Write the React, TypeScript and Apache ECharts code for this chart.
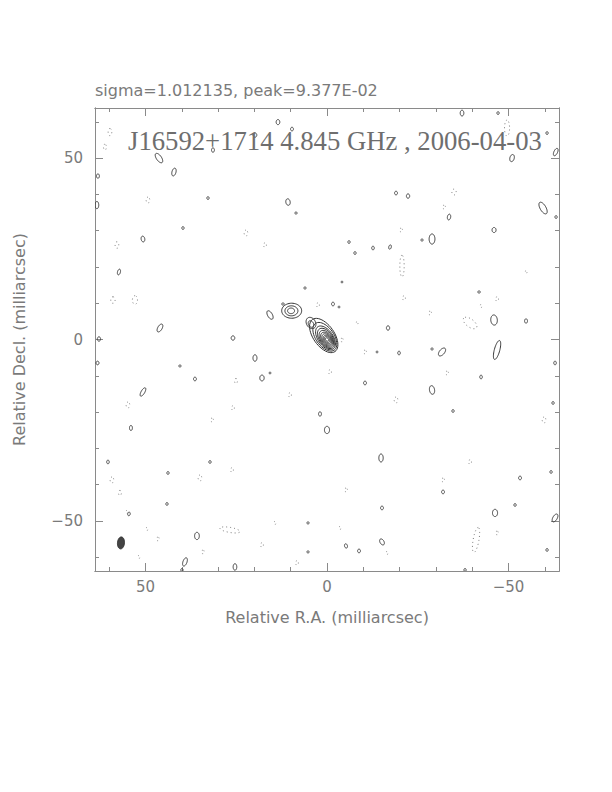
import React, { useEffect, useRef } from "react";
import * as echarts from "echarts";

// Axis ranges (milliarcsec)
const RA_MIN = -63.9;
const RA_MAX = 63.9;
const DEC_MIN = -63.8;
const DEC_MAX = 63.8;
const majorTicks = [-50, 0, 50];
const minorTicks = [-60, -40, -30, -20, -10, 10, 20, 30, 40, 60];

const statsTitle = "sigma=1.012135, peak=9.377E-02";
const sourceTitle = "J16592+1714 4.845 GHz , 2006-04-03";
const xName = "Relative R.A. (milliarcsec)";
const yName = "Relative Decl. (milliarcsec)";

// Contour islands: [RA, Dec, semi-major, semi-minor, position angle (deg E of N)]
const coreContours = [
  [0.9, 1.1, 5.4, 2.9, 35],
  [0.6, 0.75, 4.5, 2.5, 35],
  [0.41, 0.45, 3.72, 2.09, 35],
  [0.28, 0.3, 3.17, 1.82, 35],
  [0.19, 0.17, 2.64, 1.57, 35],
  [0.11, 0.09, 2.15, 1.35, 35],
  [0.06, 0.03, 1.71, 1.13, 35],
  [0.0, 0.0, 1.27, 0.91, 35],
  [0.0, 0.0, 0.88, 0.66, 35],
  [0.0, 0.0, 0.5, 0.39, 35],
  [4.41, 4.55, 1.65, 1.24, 30],
  [4.41, 4.27, 0.96, 0.69, 30],
];

const secondaryContours = [
  [9.73, 7.93, 2.75, 2.07, 90],
  [9.8, 7.9, 1.79, 1.38, 90],
  [9.9, 7.9, 0.96, 0.77, 90],
  [15.7, 6.75, 1.3, 0.65, 30],
  [12.12, 9.78, 0.35, 0.3, 0],
];

const positiveNoise = [
  [13.5, 59.92, 0.7, 0.5, 0],
  [-37.19, 62.4, 0.8, 0.5, 0],
  [-47.11, 62.4, 0.4, 0.3, 0],
  [-60.61, 56.89, 0.4, 0.3, 0],
  [-63.0, 51.66, 1.1, 0.5, -25],
  [-50.97, 50.0, 1.0, 0.6, -15],
  [46.28, 50.0, 1.5, 0.7, 35],
  [31.41, 52.21, 0.6, 0.4, 0],
  [19.84, 56.34, 0.6, 0.5, 0],
  [9.64, 57.99, 0.5, 0.4, 0],
  [63.09, 45.04, 0.6, 0.4, 0],
  [63.37, 37.05, 1.0, 0.5, 0],
  [42.15, 46.15, 1.1, 0.55, -15],
  [32.78, 38.98, 0.4, 0.3, 0],
  [50.69, 27.69, 0.8, 0.5, 10],
  [57.3, 18.6, 0.8, 0.4, -15],
  [39.67, 30.72, 0.4, 0.3, 0],
  [10.74, 37.88, 0.9, 0.6, 10],
  [8.54, 34.85, 0.3, 0.3, 0],
  [-19.01, 40.36, 0.5, 0.4, 0],
  [-22.32, 39.53, 0.6, 0.45, 0],
  [-59.51, 36.23, 1.8, 0.8, 30],
  [-63.09, 33.75, 0.4, 0.3, 0],
  [-33.61, 33.75, 0.8, 0.45, -10],
  [-28.93, 27.69, 1.4, 0.8, 0],
  [-26.17, 27.41, 0.3, 0.3, 0],
  [-46.01, 30.17, 0.7, 0.55, 0],
  [-17.36, 25.48, 0.6, 0.35, -15],
  [-6.06, 26.86, 0.4, 0.3, 0],
  [-7.71, 23.83, 0.4, 0.3, 0],
  [-12.67, 25.21, 0.5, 0.35, 0],
  [-41.88, 13.09, 0.35, 0.3, 0],
  [-46.01, 5.37, 1.4, 0.9, 5],
  [-54.82, 5.1, 0.6, 0.4, 0],
  [-16.81, 3.17, 0.6, 0.45, 0],
  [-19.84, -3.72, 0.5, 0.35, 0],
  [-28.93, -2.62, 0.3, 0.3, 0],
  [-31.68, -3.44, 1.3, 0.7, -40],
  [-46.84, -2.89, 2.7, 0.75, -15],
  [-62.81, -6.47, 0.5, 0.35, 0],
  [-42.43, -10.33, 0.5, 0.35, 0],
  [46.01, 3.17, 1.2, 0.6, -30],
  [25.9, 0.41, 0.6, 0.5, 0],
  [62.81, 0.14, 0.6, 0.45, 0],
  [63.2, -6.47, 0.5, 0.4, 0],
  [50.69, -14.46, 1.3, 0.5, -30],
  [54.0, -24.38, 0.7, 0.4, 0],
  [36.37, -10.88, 0.5, 0.4, 0],
  [19.84, -5.1, 0.9, 0.55, 0],
  [17.91, -10.61, 0.8, 0.6, 0],
  [15.7, -9.23, 0.25, 0.25, 0],
  [6.06, 14.19, 0.3, 0.3, 0],
  [-4.13, 15.84, 0.3, 0.2, 0],
  [-1.65, 9.78, 0.5, 0.4, 0],
  [-3.31, 8.95, 0.25, 0.25, 0],
  [-13.78, -3.44, 0.25, 0.25, 0],
  [1.93, -20.52, 0.6, 0.4, 0],
  [0.0, -24.93, 1.0, 0.7, 0],
  [-10.47, -11.98, 0.5, 0.4, 0],
  [-28.93, -13.91, 1.2, 0.7, 10],
  [-14.88, -32.65, 1.1, 0.6, 0],
  [-31.96, -42.01, 0.5, 0.4, 0],
  [-53.17, -38.16, 0.5, 0.4, 0],
  [-61.71, -36.5, 0.4, 0.3, 0],
  [60.33, -33.75, 0.5, 0.35, 0],
  [43.8, -36.78, 0.4, 0.3, 0],
  [32.23, -33.75, 0.4, 0.3, 0],
  [54.55, -48.07, 0.5, 0.35, -10],
  [44.08, -45.32, 0.4, 0.3, 0],
  [35.82, -54.14, 1.0, 0.65, 0],
  [39.12, -61.3, 1.2, 0.55, -20],
  [39.95, -63.5, 0.4, 0.3, 0],
  [25.35, -62.68, 0.9, 0.5, 0],
  [5.23, -50.55, 0.3, 0.3, 0],
  [5.23, -58.54, 0.3, 0.3, 0],
  [-5.23, -56.89, 0.6, 0.4, 15],
  [-8.82, -58.27, 0.5, 0.4, 0],
  [-15.15, -46.42, 0.5, 0.4, 0],
  [-15.15, -55.79, 0.9, 0.55, 30],
  [-38.02, -63.5, 0.4, 0.3, 0],
  [-46.28, -47.8, 1.0, 0.7, 0],
  [-51.79, -45.6, 0.4, 0.3, 0],
  [-60.61, -57.99, 0.4, 0.3, 0],
  [-62.81, -49.18, 1.2, 0.6, -30],
  [-62.26, -17.49, 0.4, 0.3, 0],
  [40.5, -7.3, 0.3, 0.3, 0],
  [-34.71, -19.7, 0.4, 0.3, 0],
];

const negativeNoise = [
  [59.78, 57.17, 1.0, 0.5, 0],
  [61.16, 53.03, 0.8, 0.4, 0],
  [49.31, 38.43, 0.8, 0.5, 0],
  [57.86, 26.03, 0.9, 0.5, 0],
  [58.96, 10.88, 0.9, 0.6, 0],
  [52.9, 10.88, 1.2, 0.7, 0],
  [22.32, 29.34, 0.8, 0.5, 0],
  [17.08, 26.03, 0.6, 0.4, 0],
  [-49.59, 58.27, 2.2, 0.7, 0],
  [-34.99, 40.64, 0.8, 0.6, 0],
  [-32.23, 36.5, 0.5, 0.4, 0],
  [-20.39, 30.17, 0.5, 0.4, 0],
  [-20.66, 20.25, 3.0, 0.6, 0],
  [-54.82, 18.6, 0.3, 0.3, 0],
  [-21.21, 11.43, 0.6, 0.4, 0],
  [-46.84, 11.16, 0.6, 0.4, 0],
  [-42.43, 9.23, 0.4, 0.3, 0],
  [-28.38, 7.3, 0.5, 0.4, 0],
  [-39.4, 4.55, 2.2, 1.1, 53],
  [-33.06, -9.23, 0.5, 0.4, 0],
  [2.48, 9.5, 0.6, 0.4, 0],
  [-4.13, -0.14, 0.5, 0.35, 0],
  [-8.27, 4.55, 0.3, 0.3, 0],
  [-10.47, -3.44, 0.5, 0.4, 0],
  [-0.83, -8.95, 0.6, 0.4, 0],
  [25.07, -11.43, 0.7, 0.4, 0],
  [54.82, -18.05, 0.8, 0.5, 0],
  [25.9, -18.87, 0.6, 0.4, 0],
  [31.68, -22.18, 0.5, 0.4, 0],
  [10.19, -15.29, 0.6, 0.4, 0],
  [-19.01, -16.67, 0.8, 0.5, 0],
  [-59.78, -22.18, 0.8, 0.5, 0],
  [-31.96, -38.71, 0.5, 0.4, 0],
  [-39.4, -33.75, 0.6, 0.4, 0],
  [59.23, -38.71, 0.8, 0.5, 0],
  [57.03, -42.29, 0.7, 0.4, 0],
  [34.99, -38.16, 0.8, 0.5, 0],
  [26.17, -35.95, 0.6, 0.4, 0],
  [49.59, -52.21, 0.4, 0.3, 0],
  [46.56, -54.96, 0.5, 0.35, 0],
  [51.79, -59.92, 0.4, 0.3, 0],
  [34.16, -58.54, 0.5, 0.35, 0],
  [26.72, -52.48, 2.8, 0.7, 80],
  [17.91, -56.62, 0.6, 0.4, 0],
  [14.33, -50.55, 0.4, 0.3, 0],
  [8.27, -61.57, 0.6, 0.4, 0],
  [-3.58, -51.93, 0.4, 0.3, 0],
  [-16.53, -58.82, 0.4, 0.3, 0],
  [-41.05, -55.24, 3.5, 0.8, -10],
  [-46.84, -53.31, 0.5, 0.35, 0],
  [-5.23, -41.46, 0.5, 0.4, 0],
  [55.1, -47.52, 0.4, 0.3, 0],
];

const beam = [[56.75, -56.06, 1.65, 0.96, -5]];

const FRAME = "#8a8a8a";
const TEXT = "#7a7a7a";

function makeRender(style: any) {
  return (params: any, api: any) => {
    const ra = api.value(0);
    const dec = api.value(1);
    const a = api.value(2);
    const b = api.value(3);
    const pa = (api.value(4) * Math.PI) / 180;
    const pts: number[][] = [];
    const N = 48;
    for (let i = 0; i < N; i++) {
      const t = (2 * Math.PI * i) / N;
      const u = a * Math.cos(t);
      const v = b * Math.sin(t);
      const x = ra + u * Math.sin(pa) + v * Math.cos(pa);
      const y = dec + u * Math.cos(pa) - v * Math.sin(pa);
      pts.push(api.coord([x, y]));
    }
    return { type: "polygon", shape: { points: pts }, style: { ...style } };
  };
}

const fmt = (v: number) => String(v).replace("-", "\u2212");

function xAxisDef(position: string, ticks: number[], len: number, labels: boolean, name?: string) {
  return {
    type: "value",
    position,
    min: RA_MIN,
    max: RA_MAX,
    inverse: true,
    axisLine: { show: true, onZero: false, lineStyle: { color: FRAME, width: 1 } },
    axisTick: { show: true, inside: true, length: len, customValues: ticks, lineStyle: { color: FRAME } },
    axisLabel: labels
      ? { show: true, customValues: ticks, formatter: fmt, margin: 8, fontSize: 15, color: TEXT, fontFamily: "DejaVu Sans" }
      : { show: false },
    splitLine: { show: false },
    name: name || "",
    nameLocation: "middle",
    nameGap: 38,
    nameTextStyle: { fontSize: 16, color: TEXT, fontFamily: "DejaVu Sans" },
  };
}

function yAxisDef(position: string, ticks: number[], len: number, labels: boolean, name?: string) {
  return {
    type: "value",
    position,
    min: DEC_MIN,
    max: DEC_MAX,
    axisLine: { show: true, onZero: false, lineStyle: { color: FRAME, width: 1 } },
    axisTick: { show: true, inside: true, length: len, customValues: ticks, lineStyle: { color: FRAME } },
    axisLabel: labels
      ? { show: true, customValues: ticks, formatter: fmt, margin: 12, fontSize: 15, color: TEXT, fontFamily: "DejaVu Sans" }
      : { show: false },
    splitLine: { show: false },
    name: name || "",
    nameLocation: "middle",
    nameGap: 68,
    nameRotate: 90,
    nameTextStyle: { fontSize: 16, color: TEXT, fontFamily: "DejaVu Sans" },
  };
}

export default function App() {
  const ref = useRef<HTMLDivElement>(null);
  useEffect(() => {
    if (!ref.current) return;
    const chart = echarts.init(ref.current, null, { renderer: "svg" });
    chart.setOption({
      animation: false,
      backgroundColor: "#ffffff",
      title: [
        {
          text: statsTitle,
          left: 95,
          top: 82,
          padding: 0,
          textStyle: { fontSize: 16, fontWeight: "normal", color: TEXT, fontFamily: "DejaVu Sans" },
        },
        {
          text: sourceTitle,
          left: 128,
          top: 127,
          padding: 0,
          textStyle: { fontSize: 26.7, fontWeight: "normal", color: "#6e6e6e", fontFamily: "Liberation Serif" },
        },
      ],
      grid: { left: 95, top: 108, width: 464, height: 463, containLabel: false },
      xAxis: [
        xAxisDef("bottom", majorTicks, 8, true, xName),
        xAxisDef("bottom", minorTicks, 4, false),
        xAxisDef("top", majorTicks, 8, false),
        xAxisDef("top", minorTicks, 4, false),
      ],
      yAxis: [
        yAxisDef("left", majorTicks, 8, true, yName),
        yAxisDef("left", minorTicks, 4, false),
        yAxisDef("right", majorTicks, 8, false),
        yAxisDef("right", minorTicks, 4, false),
      ],
      series: [
        {
          type: "custom",
          name: "core",
          clip: true,
          xAxisIndex: 0,
          yAxisIndex: 0,
          renderItem: makeRender({ fill: "none", stroke: "#333333", lineWidth: 1 }),
          data: coreContours.concat(secondaryContours),
        },
        {
          type: "custom",
          name: "positive",
          clip: true,
          xAxisIndex: 0,
          yAxisIndex: 0,
          renderItem: makeRender({ fill: "none", stroke: "#3a3a3a", lineWidth: 1 }),
          data: positiveNoise,
        },
        {
          type: "custom",
          name: "negative",
          clip: true,
          xAxisIndex: 0,
          yAxisIndex: 0,
          renderItem: makeRender({ fill: "none", stroke: "#777777", lineWidth: 1, lineDash: [1, 3] }),
          data: negativeNoise,
        },
        {
          type: "custom",
          name: "beam",
          clip: true,
          xAxisIndex: 0,
          yAxisIndex: 0,
          renderItem: makeRender({ fill: "#444444", stroke: "#333333", lineWidth: 1 }),
          data: beam,
        },
      ],
    });
    return () => chart.dispose();
  }, []);
  return (
    <div
      ref={ref}
      style={{ position: "absolute", left: 0, top: 0, width: 612, height: 792, background: "#fff" }}
    />
  );
}
